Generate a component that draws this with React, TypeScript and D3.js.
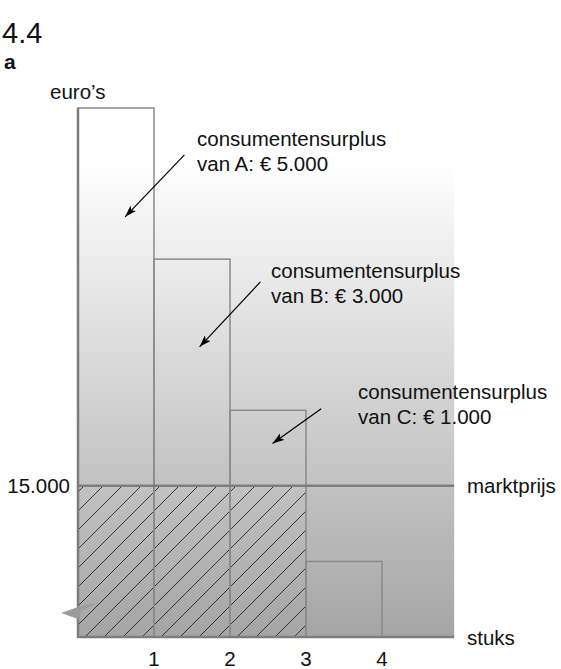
import React from "react";
import * as d3 from "d3";

const consumers = ["A", "B", "C", "D"];
const maxPrices = [20000, 18000, 16000, 14000];
const marketPrice = 15000;
const surplusLabels = ["van A: € 5.000", "van B: € 3.000", "van C: € 1.000"];
const xTicks = [1, 2, 3, 4];

const W = 561;
const H = 669;
const FONT = "Liberation Sans, Arial, sans-serif";
const FS = 20.5;

export default function App() {
  const x = d3.scaleLinear().domain([0, 4]).range([78, 382]);
  const y = d3.scaleLinear().domain([13000, 20000]).range([637, 108]);
  const x0 = x(0);
  const xEnd = x(4.95);
  const yBase = y(13000);
  const yMP = y(marketPrice);

  const arrowFrom = [
    [1.4, 19380],
    [2.4, 17700],
    [3.2, 16020],
  ];
  const arrowTo = [
    [0.62, 18560],
    [1.6, 16840],
    [2.56, 15560],
  ];
  const labelPos = [
    [197, 146],
    [271, 278],
    [358, 399],
  ];

  const nSold = maxPrices.filter((p) => p >= marketPrice).length;

  return (
    <svg
      width={W}
      height={H}
      style={{ position: "absolute", left: 0, top: 0, fontFamily: FONT }}
    >
      <defs>
        <linearGradient id="bg" gradientUnits="userSpaceOnUse" x1={0} y1={160} x2={0} y2={yBase}>
          <stop offset="0" stopColor="#ffffff" />
          <stop offset="1" stopColor="#a5a5a5" />
        </linearGradient>
        <pattern id="hatch" patternUnits="userSpaceOnUse" width={19} height={19}>
          <path d="M0,19 L19,0 M-2,2 L2,-2 M17,21 L21,17" stroke="#111" strokeWidth={0.8} />
        </pattern>
        <marker id="arr" viewBox="0 0 12 8" refX={12} refY={4} markerWidth={12} markerHeight={8} markerUnits="userSpaceOnUse" orient="auto">
          <path d="M0,0 L12,4 L0,8 L3,4 Z" fill="#000" />
        </marker>
      </defs>

      <text x={2} y={43} fontSize={29} fill="#111">4.4</text>
      <text x={4} y={69} fontSize={21} fontWeight="bold" fill="#111">a</text>
      <text x={50} y={99} fontSize={FS} fill="#111">euro’s</text>

      {/* background */}
      <rect x={x0} y={y(20000)} width={xEnd - x0} height={yBase - y(20000)} fill="url(#bg)" />

      {/* hatched area: market price × quantity sold */}
      <rect x={x0} y={yMP} width={x(nSold) - x0} height={yBase - yMP} fill="url(#hatch)" />

      {/* bars */}
      {maxPrices.map((p, i) => (
        <rect
          key={consumers[i]}
          x={x(i)}
          y={y(p)}
          width={x(i + 1) - x(i)}
          height={yBase - y(p)}
          fill="none"
          stroke="#8a8a8a"
          strokeWidth={1.5}
        />
      ))}

      {/* market price line */}
      <line x1={x0} x2={xEnd} y1={yMP} y2={yMP} stroke="#7d7d7d" strokeWidth={2.5} />
      <text x={70} y={yMP + 7} fontSize={FS} textAnchor="end" fill="#111">15.000</text>
      <text x={467} y={yMP + 7} fontSize={FS} fill="#111">marktprijs</text>

      {/* axes */}
      <line x1={x0} x2={x0} y1={y(20000)} y2={yBase + 1} stroke="#7d7d7d" strokeWidth={2.5} />
      <line x1={x0} x2={xEnd} y1={yBase} y2={yBase} stroke="#7d7d7d" strokeWidth={2.5} />
      <polygon
        points={`61,613 ${x0},607 97,603 ${x0 + 3},611 ${x0},619`}
        fill="#9c9c9c"
      />
      <text x={467} y={yBase + 8} fontSize={FS} fill="#111">stuks</text>
      {xTicks.map((t) => (
        <text key={t} x={x(t)} y={666} fontSize={FS} textAnchor="middle" fill="#111">{t}</text>
      ))}

      {/* annotations */}
      {surplusLabels.map((lab, i) => (
        <g key={lab}>
          <line
            x1={x(arrowFrom[i][0])}
            y1={y(arrowFrom[i][1])}
            x2={x(arrowTo[i][0])}
            y2={y(arrowTo[i][1])}
            stroke="#000"
            strokeWidth={1.2}
            markerEnd="url(#arr)"
          />
          <text x={labelPos[i][0]} y={labelPos[i][1]} fontSize={FS} fill="#111">
            consumentensurplus
          </text>
          <text x={labelPos[i][0]} y={labelPos[i][1] + 25} fontSize={FS} fill="#111">
            {lab}
          </text>
        </g>
      ))}
    </svg>
  );
}
